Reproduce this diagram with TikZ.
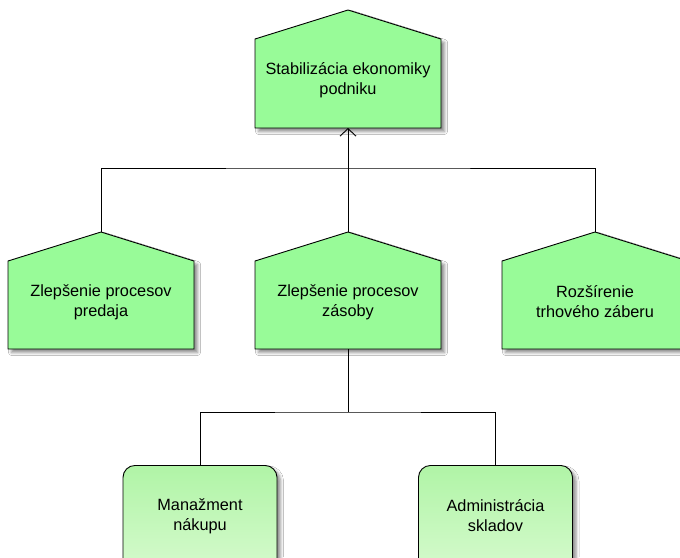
\documentclass[tikz,border=0pt]{standalone}
\usepackage{fontspec}
\setmainfont{Liberation Sans}
\usetikzlibrary{arrows.meta,shadows.blur}

% house-shaped goal: name, centre x, apex y, shoulder y, base y, text y, text
\newcommand\goalhouse[7]{%
  \path[housefill] (#2-93,#4) -- (#2,#3) -- (#2+93,#4) -- (#2+93,#5)
     -- (#2-93,#5) -- cycle;
  \coordinate (#1-apex) at (#2,#3);
  \coordinate (#1-base) at (#2,#5);
  \node[label text] (#1) at (#2,#6) {#7};
}

\begin{document}
\begin{tikzpicture}[x=1pt,y=-1pt,
  housefill/.style={draw=black, line width=0.9pt, fill={rgb,255:red,152;green,251;blue,152},
    blur shadow={shadow xshift=3.5pt, shadow yshift=-3.5pt, shadow opacity=45, shadow blur radius=3pt}},
  taskbox/.style={draw=black, line width=0.9pt, rounded corners=12pt,
    top color={rgb,255:red,176;green,244;blue,166},
    bottom color={rgb,255:red,222;green,252;blue,214},
    minimum width=154pt, minimum height=130pt, anchor=north,
    blur shadow={shadow xshift=3.5pt, shadow yshift=-3.5pt, shadow opacity=45, shadow blur radius=3pt}},
  label text/.style={align=center, font=\fontsize{16.3}{20}\selectfont, inner sep=0pt},
  link/.style={draw=black, line width=0.9pt},
  >={Straight Barb[length=7.5pt,width=16pt]}]

\path[fill=white] (0,0) rectangle (680,557);
\clip (0,0) rectangle (680,557);

% goals
\goalhouse{root}{348}{10}{39}{128}{80}{Stabilizácia ekonomiky\\podniku}
\goalhouse{sales}{101}{232}{261}{349}{302}{Zlepšenie procesov\\predaja}
\goalhouse{stock}{348}{232}{261}{349}{302}{Zlepšenie procesov\\zásoby}
\goalhouse{market}{595}{232}{261}{349}{302}{Rozšírenie\\trhového záberu}

% tasks
\node[taskbox] (buy) at (200,465) {};
\node[taskbox] (store) at (495.5,465) {};
\node[label text] (buytext) at (200,516) {Manažment\\nákupu};
\node[label text] (storetext) at (495.5,516) {Administrácia\\skladov};

% connectors of the upper level
\coordinate (upperbus) at (348,168);
\draw[link] (sales-apex) |- (upperbus) -| (market-apex);
\draw[link,->] (stock-apex) -- (root-base);

% connectors of the lower level
\coordinate (lowerbus) at (348,412);
\draw[link] (stock-base) -- (lowerbus);
\draw[link] (buy.north) |- (lowerbus) -| (store.north);
\end{tikzpicture}
\end{document}
